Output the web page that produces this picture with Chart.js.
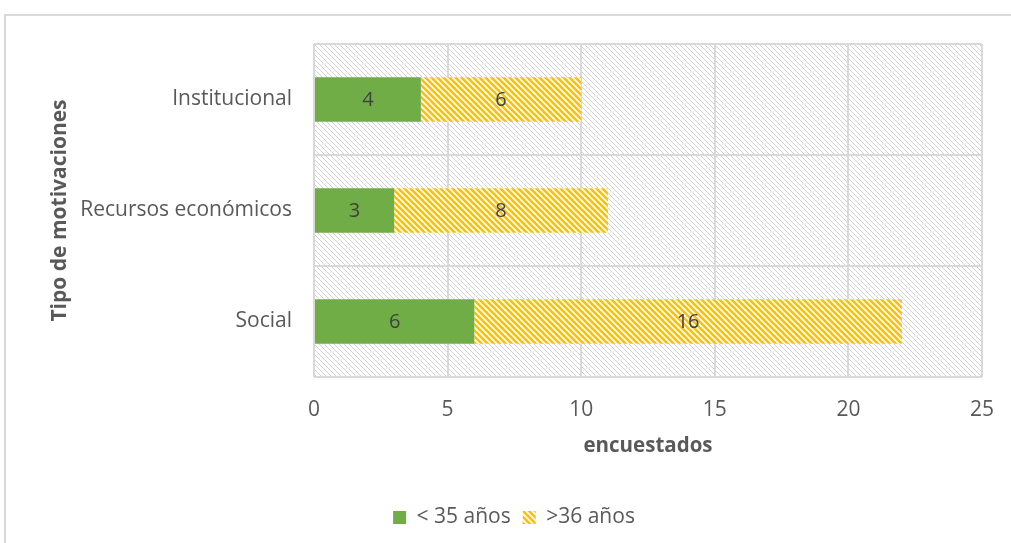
<!DOCTYPE html>
<html>
<head>
<meta charset="utf-8">
<script src="https://cdn.jsdelivr.net/npm/chart.js@4.4.1/dist/chart.umd.min.js"></script>
<style>
  html, body { margin: 0; padding: 0; background: #fff; overflow: hidden; }
  #frame { position: absolute; left: 4px; top: 14px; width: 1100px; height: 600px; border: 2px solid #d9d9d9; }
  #wrap { position: absolute; left: 0; top: 0; width: 1011px; height: 543px; }
</style>
</head>
<body>
<div id="frame"></div>
<div id="wrap"><canvas id="chart" width="1011" height="543"></canvas></div>
<script>
const categories = ['Institucional', 'Recursos económicos', 'Social'];
const seriesNames = ['< 35 años', '>36 años'];
const menores35 = [4, 3, 6];
const mayores36 = [6, 8, 16];
const xTicks = [0, 5, 10, 15, 20, 25];

const FONT = '"Open Sans", sans-serif';
const TEXT = '#595959';
const PAD_BOTTOM = 5;

// diagonal stripe tile, lines going down to the right
function makeStripes(size, color, width, bg) {
  const c = document.createElement('canvas');
  c.width = size; c.height = size;
  const g = c.getContext('2d');
  if (bg) { g.fillStyle = bg; g.fillRect(0, 0, size, size); }
  g.strokeStyle = color;
  g.lineWidth = width;
  g.beginPath();
  g.moveTo(-1, -1); g.lineTo(size + 1, size + 1);
  g.moveTo(-1, size - 1); g.lineTo(1, size + 1);
  g.moveTo(size - 1, -1); g.lineTo(size + 1, 1);
  g.stroke();
  return c;
}

const ctx = document.getElementById('chart').getContext('2d');
const yellowHatch = ctx.createPattern(makeStripes(6, '#ffc000', 2.6, '#ffffff'), 'repeat');
const greyHatch = ctx.createPattern(makeStripes(5, '#d2d2d2', 1, '#ffffff'), 'repeat');

const plotBackground = {
  id: 'plotBackground',
  beforeDraw(chart) {
    const a = chart.chartArea;
    const g = chart.ctx;
    g.save();
    g.fillStyle = greyHatch;
    g.fillRect(a.left, a.top, a.right - a.left, a.bottom - a.top);
    g.restore();
  }
};

const segmentLabels = {
  id: 'segmentLabels',
  afterDatasetsDraw(chart) {
    const g = chart.ctx;
    g.save();
    g.font = '20px ' + FONT;
    g.fillStyle = '#404040';
    g.textAlign = 'center';
    g.textBaseline = 'middle';
    chart.data.datasets.forEach((ds, i) => {
      chart.getDatasetMeta(i).data.forEach((bar, j) => {
        g.fillText(ds.data[j], (bar.x + bar.base) / 2, bar.y + 1);
      });
    });
    g.restore();
  }
};

new Chart(ctx, {
  type: 'bar',
  data: {
    labels: categories,
    datasets: [{
      label: seriesNames[0],
      data: menores35,
      backgroundColor: '#70ad47',
      barPercentage: 0.4,
      categoryPercentage: 1
    }, {
      label: seriesNames[1],
      data: mayores36,
      backgroundColor: yellowHatch,
      barPercentage: 0.4,
      categoryPercentage: 1
    }]
  },
  options: {
    indexAxis: 'y',
    responsive: false,
    animation: false,
    layout: { padding: { left: 46, right: 29, top: 44, bottom: PAD_BOTTOM } },
    scales: {
      x: {
        stacked: true,
        min: 0,
        max: 25,
        afterBuildTicks(scale) { scale.ticks = xTicks.map(v => ({ value: v })); },
        afterFit(scale) {
          scale.height = 543 - 377 - scale.chart.legend.height - PAD_BOTTOM;
          scale.paddingLeft = 0;
          scale.paddingRight = 0;
        },
        grid: { color: '#d9d9d9', lineWidth: 2, drawTicks: false },
        border: { display: false },
        ticks: { color: TEXT, font: { family: FONT, size: 21 }, padding: 20 },
        title: { display: true, text: 'encuestados', color: TEXT, font: { family: FONT, size: 20.5, weight: 'bold' }, padding: { top: 10, bottom: 37 } }
      },
      y: {
        stacked: true,
        afterFit(scale) { scale.width = 314 - 46; },
        grid: { color: '#d9d9d9', lineWidth: 2, drawTicks: false, offset: true },
        border: { display: false },
        ticks: { color: TEXT, font: { family: FONT, size: 21 }, padding: 22 },
        title: { display: true, text: 'Tipo de motivaciones', color: TEXT, font: { family: FONT, size: 21, weight: 'bold' }, padding: { top: 1, bottom: 0 } }
      }
    },
    plugins: {
      legend: {
        position: 'bottom',
        labels: { color: TEXT, font: { family: FONT, size: 21 }, boxWidth: 13, boxHeight: 13, padding: 12 }
      },
      tooltip: { enabled: false }
    }
  },
  plugins: [plotBackground, segmentLabels]
});
</script>
</body>
</html>
